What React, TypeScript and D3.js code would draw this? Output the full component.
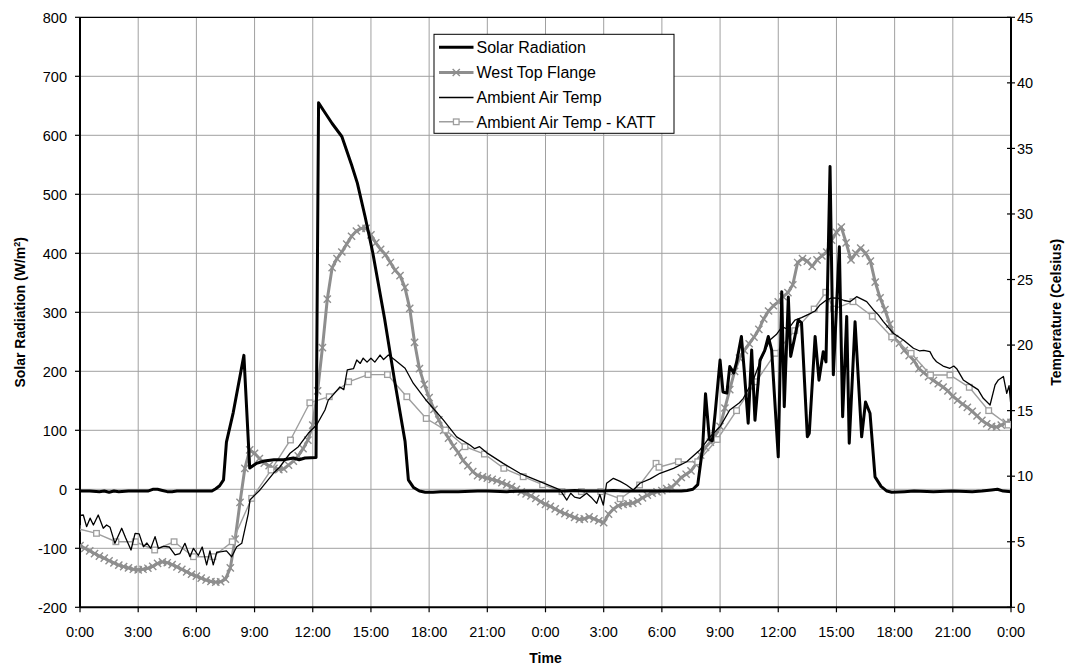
import React from "react";
import * as d3 from "d3";

// ---------- data ----------
const xTickLabels = ["0:00","3:00","6:00","9:00","12:00","15:00","18:00","21:00","0:00","3:00","6:00","9:00","12:00","15:00","18:00","21:00","0:00"];
const xTickHours = [0,3,6,9,12,15,18,21,24,27,30,33,36,39,42,45,48];
const leftTicks = [-200,-100,0,100,200,300,400,500,600,700,800];
const rightTicks = [0,5,10,15,20,25,30,35,40,45];

// Solar Radiation (W/m2): [hour, value]
const solarRadiation: [number, number][] = [
  [0,-3],[0.5,-3],[1,-4],[1.25,-3],[1.5,-5],[1.75,-3],[2,-4],[2.5,-3],[3,-3],[3.5,-3],[3.75,0],[4,0],[4.25,-2],[4.5,-4],[4.75,-4],[5,-3],[6.8,-3],
  [7.0,1],[7.2,6],[7.4,16],[7.55,80],[7.9,130],[8.45,227],[8.75,36],[9.1,44],[9.5,48],[10,50],[10.5,50],[11,53],[11.3,50],[11.6,53],[12.17,54],
  [12.3,655],[12.6,640],[13,620],[13.5,598],[14,550],[14.3,519],[14.7,462],[15.1,400],[15.7,290],[16.2,188],[16.76,81],[16.93,16],[17.2,3],[17.5,-3],[17.8,-5],
  [18.2,-5],[18.6,-4],[19.5,-4],[20.5,-3],[21,-3],[22,-4],[23,-3],[24,-3],[25,-3],[25.5,-2],[26,-3],[27,-3],[27.5,-2],[28,-3],[29,-3],[30,-3],[31,-3],
  [31.3,-2],[31.6,0],[31.85,8],[32.1,70],[32.25,162],[32.45,85],[32.6,82],[32.75,130],[33.0,219],[33.15,165],[33.35,163],[33.5,208],[33.7,197],[33.85,215],
  [34.1,259],[34.25,200],[34.45,112],[34.63,236],[34.8,117],[35.06,219],[35.3,235],[35.49,259],[35.66,236],[36.0,55],[36.18,335],[36.31,140],[36.52,326],
  [36.64,225],[36.86,259],[37.03,287],[37.2,282],[37.5,89],[37.6,95],[37.9,259],[38.1,185],[38.32,233],[38.46,216],[38.67,547],[38.84,194],[39.15,411],
  [39.32,123],[39.53,293],[39.66,78],[39.96,284],[40.3,89],[40.5,148],[40.73,129],[40.99,21],[41.3,5],[41.6,-3],[41.85,-5],[42.5,-4],[43,-3],[44,-4],
  [45,-3],[46,-4],[46.5,-3],[47,-1],[47.3,0],[47.6,-3],[48,-4]
];

// West Top Flange (Celsius), every 15 minutes from 0:00
const flangeStepHours = 0.25;
const westTopFlange = [
  4.7,4.5,4.3,4.1, 3.9,3.75,3.55,3.38, 3.22,3.1,3.0,2.9, 2.86,2.9,2.98,3.12,
  3.35,3.46,3.4,3.25, 3.08,2.9,2.7,2.52, 2.38,2.22,2.08,1.97, 1.92,1.95,2.15,3.0,
  5.2,8.0,10.6,12.0, 11.75,11.35,11.0,10.8, 10.6,10.5,10.55,10.85, 11.15,11.55,12.1,12.75,
  13.9,16.5,19.8,23.5, 25.9,26.6,27.1,27.7, 28.3,28.7,28.9,28.9, 28.4,27.8,27.3,26.9,
  26.3,25.7,25.3,24.4, 22.8,20.2,18.2,17.0, 16.0,15.1,14.3,13.5, 12.9,12.3,11.8,11.2,
  10.8,10.35,10.05,9.95, 9.85,9.75,9.65,9.5, 9.35,9.2,9.0,8.8, 8.65,8.5,8.3,8.05,
  7.85,7.7,7.5,7.3, 7.15,7.0,6.85,6.7, 6.75,6.9,6.75,6.6, 6.45,7.1,7.5,7.75,
  7.85,7.9,7.95,8.1, 8.35,8.55,8.7,8.8, 8.9,9.05,9.15,9.5, 9.9,10.15,10.4,10.9,
  11.6,12.2,12.6,13.1, 13.8,15.2,16.6,18.0, 19.0,19.6,20.1,20.6, 21.2,22.0,22.6,23.0,
  23.3,23.7,24.0,24.6, 26.3,26.6,26.4,26.0, 26.5,26.8,27.1,28.0, 28.6,29.0,27.8,26.5,
  27.0,27.4,27.0,26.4, 24.8,23.6,22.7,21.6, 20.5,20.15,19.6,19.2, 18.8,18.2,17.9,17.6,
  17.3,17.05,16.8,16.5, 16.1,15.8,15.5,15.25, 14.95,14.6,14.25,14.0, 13.8,13.75,13.9,14.1,
  14.1
];

// Ambient Air Temp (Celsius): [hour, value]
const ambientAirTemp: [number, number][] = [
  [0,7.0],[0.17,7.04],[0.34,6.15],[0.52,6.8],[0.69,6.28],[0.94,7.04],[1.2,6.03],[1.37,6.28],[1.55,6.1],[1.8,4.88],[2.15,6.03],[2.35,5.3],[2.63,4.37],
  [2.84,5.64],[3.05,5.6],[3.27,4.62],[3.45,4.9],[3.65,4.5],[3.87,5.39],[4.04,4.5],[4.3,4.65],[4.6,4.6],[4.9,3.99],[5.15,4.1],[5.41,4.88],[5.67,3.86],
  [5.85,4.5],[6.1,3.95],[6.3,4.6],[6.53,3.23],[6.7,4.3],[6.87,3.23],[7.05,4.2],[7.3,4.24],[7.55,4.3],[7.82,3.86],[8.08,4.62],[8.34,4.88],[8.68,7.17],
  [8.76,8.18],[9.28,8.95],[9.97,10.22],[10.3,10.7],[10.83,11.75],[11.26,12.25],[11.77,13.27],[12.2,13.9],[12.63,15.05],[12.8,15.8],[13.05,16.2],
  [13.4,16.8],[13.6,16.6],[13.78,18.1],[14.1,18.2],[14.27,18.86],[14.45,18.6],[14.6,19.0],[14.8,18.7],[15.0,19.0],[15.2,18.7],[15.47,19.24],[15.65,18.9],
  [15.9,19.24],[16.24,18.86],[16.76,18.23],[17.18,17.09],[17.87,15.75],[18.73,14.29],[19.42,13.0],[20.1,12.38],[20.35,12.1],[20.6,12.25],[20.96,11.8],
  [21.82,10.98],[22.68,10.22],[23.72,9.58],[24.75,8.95],[25.1,8.18],[25.3,8.7],[25.5,8.4],[25.78,8.31],[26.12,8.7],[26.35,8.4],[26.64,7.93],[26.8,8.6],
  [26.98,7.8],[27.15,9.46],[27.5,9.84],[27.85,9.6],[28.18,9.33],[28.53,8.95],[28.87,9.46],[29.4,9.8],[29.9,10.22],[30.6,10.6],[31.28,11.1],[31.96,12.0],
  [32.48,13.0],[33.0,13.78],[33.5,15.05],[34.0,15.6],[34.2,15.94],[34.71,17.34],[35.14,18.99],[35.57,20.39],[35.9,20.8],[36.2,21.4],[36.5,21.2],
  [36.86,21.9],[37.2,22.1],[37.64,22.4],[37.9,22.6],[38.15,23.06],[38.45,23.4],[38.75,23.6],[39.1,23.57],[39.4,23.4],[39.7,23.31],[40.04,23.69],
  [40.3,23.5],[40.56,23.31],[40.9,22.7],[41.16,22.3],[41.42,21.79],[41.93,20.9],[42.45,20.39],[42.97,19.76],[43.3,19.55],[43.5,19.6],[43.82,19.5],
  [44.0,19.0],[44.16,18.73],[44.5,18.4],[44.85,18.23],[45.05,18.4],[45.2,18.2],[45.54,17.34],[46.06,16.83],[46.3,16.6],[46.57,15.94],[46.92,15.43],
  [47.18,16.96],[47.35,17.34],[47.61,17.6],[47.78,16.32],[47.9,16.9],[48.0,15.3]
];

// Ambient Air Temp - KATT (Celsius), hourly observations: [hour, value]
const ambientKATT: [number, number][] = [
  [-0.15,6.0],[0.85,5.64],[1.85,5.0],[2.85,5.0],[3.85,4.37],[4.85,5.0],[5.85,3.86],[6.85,3.86],[7.85,5.0],[8.85,8.31],[9.85,10.47],[10.85,12.76],
  [11.85,15.6],[12.85,16.06],[13.85,17.2],[14.85,17.75],[15.85,17.75],[16.85,16.06],[17.85,14.4],[18.85,13.52],[19.85,12.25],[20.85,11.69],[21.85,10.6],
  [22.85,9.96],[23.85,9.35],[24.85,8.82],[25.85,8.82],[26.85,8.82],[27.85,8.28],[28.85,9.33],[29.7,10.98],[29.85,10.68],[30.85,11.1],[31.85,11.1],
  [32.85,12.8],[33.85,15.0],[34.85,17.2],[35.85,19.37],[36.85,21.1],[37.85,22.75],[38.45,24.03],[38.85,22.75],[39.85,23.31],[40.85,22.2],[41.85,20.62],
  [42.85,19.37],[43.85,17.72],[44.85,17.72],[45.85,16.78],[46.85,15.0],[47.85,13.9]
];

const legendItems = ["Solar Radiation", "West Top Flange", "Ambient Air Temp", "Ambient Air Temp - KATT"];

// ---------- chart ----------
const W = 1065, H = 666;
const PL = 80, PR = 1011, PT = 17.3, PB = 607.3;
const FONT = "'Liberation Sans', Arial, Helvetica, sans-serif";
const GRID = "#a0a0a0";
const FLANGE = "#8e8e8e";
const KATT = "#9e9e9e";

export default function App() {
  const x = d3.scaleLinear().domain([0, 48]).range([PL, PR]);
  const yL = d3.scaleLinear().domain([-200, 800]).range([PB, PT]);
  const yR = d3.scaleLinear().domain([0, 45]).range([PB, PT]);

  const flangePts: [number, number][] = westTopFlange.map((v, i) => [i * flangeStepHours, v]);

  const lineL = d3.line<[number, number]>().x(d => x(d[0])).y(d => yL(d[1]));
  const lineR = d3.line<[number, number]>().x(d => x(d[0])).y(d => yR(d[1]));

  const xMark = (cx: number, cy: number, s: number) =>
    `M${cx - s},${cy - s}L${cx + s},${cy + s}M${cx - s},${cy + s}L${cx + s},${cy - s}`;

  const legX = 434, legY = 34.3, legW = 240, legH = 99;
  const rowY = [47.3, 72.5, 97.5, 121.8];
  const sampleX1 = 439, sampleX2 = 473.5, textX = 476.5;

  return (
    <svg width={W} height={H} style={{ position: "absolute", left: 0, top: 0, background: "#fff" }} fontFamily={FONT}>
      <defs>
        <clipPath id="plotClip">
          <rect x={PL} y={PT} width={PR - PL} height={PB - PT} />
        </clipPath>
      </defs>
      <rect x={0} y={0} width={W} height={H} fill="#fff" />

      {/* gridlines */}
      {leftTicks.slice(1, -1).map(t => (
        <line key={"h" + t} x1={PL} x2={PR} y1={yL(t)} y2={yL(t)} stroke={GRID} strokeWidth={1} />
      ))}
      {xTickHours.slice(1, -1).map((h, i) => (
        <line key={"v" + i} x1={x(h)} x2={x(h)} y1={PT} y2={PB} stroke={GRID} strokeWidth={1} />
      ))}

      {/* frame */}
      <line x1={PL} x2={PR} y1={PT} y2={PT} stroke="#000" strokeWidth={1.2} />
      <line x1={PL} x2={PL} y1={PT} y2={PB} stroke="#000" strokeWidth={2} />
      <line x1={PR} x2={PR} y1={PT} y2={PB} stroke="#000" strokeWidth={2} />
      <line x1={PL} x2={PR} y1={PB} y2={PB} stroke="#000" strokeWidth={2} />

      {/* series */}
      <g clipPath="url(#plotClip)">
        <path d={lineR(flangePts) || ""} fill="none" stroke={FLANGE} strokeWidth={3} strokeLinejoin="round" />
        {flangePts.map((d, i) => (
          <path key={"fx" + i} d={xMark(x(d[0]), yR(d[1]), 3.6)} stroke={FLANGE} strokeWidth={1.4} fill="none" />
        ))}
        <path d={lineR(ambientKATT) || ""} fill="none" stroke={KATT} strokeWidth={1.4} />
        {ambientKATT.map((d, i) => (
          <rect key={"ks" + i} x={x(d[0]) - 2.8} y={yR(d[1]) - 2.8} width={5.6} height={5.6} fill="#fff" stroke={KATT} strokeWidth={1.3} />
        ))}
        <path d={lineR(ambientAirTemp) || ""} fill="none" stroke="#000" strokeWidth={1.3} strokeLinejoin="round" />
        <path d={lineL(solarRadiation) || ""} fill="none" stroke="#000" strokeWidth={3} strokeLinejoin="round" />
      </g>

      {/* left axis */}
      {leftTicks.map(t => (
        <g key={"lt" + t}>
          <line x1={PL - 5} x2={PL} y1={yL(t)} y2={yL(t)} stroke="#000" strokeWidth={1.2} />
          <text x={67} y={yL(t)} dy="0.36em" textAnchor="end" fontSize={14.5} fill="#000">{t}</text>
        </g>
      ))}
      {/* right axis */}
      {rightTicks.map(t => (
        <g key={"rt" + t}>
          <line x1={PR - 4} x2={PR + 4} y1={yR(t)} y2={yR(t)} stroke="#000" strokeWidth={1.2} />
          <text x={1017} y={yR(t)} dy="0.36em" textAnchor="start" fontSize={14.5} fill="#000">{t}</text>
        </g>
      ))}
      {/* x axis */}
      {xTickHours.map((h, i) => (
        <g key={"xt" + i}>
          <line x1={x(h)} x2={x(h)} y1={PB} y2={PB + 5} stroke="#000" strokeWidth={1.2} />
          <text x={x(h)} y={636.5} textAnchor="middle" fontSize={14.5} fill="#000">{xTickLabels[i]}</text>
        </g>
      ))}

      {/* axis titles */}
      <text x={(PL + PR) / 2} y={663} textAnchor="middle" fontSize={14} fontWeight="bold">Time</text>
      <text transform={`translate(25, ${(PT + PB) / 2}) rotate(-90)`} textAnchor="middle" fontSize={14} fontWeight="bold">
        Solar Radiation (W/m<tspan dy="-5" fontSize={9}>2</tspan><tspan dy="5">)</tspan>
      </text>
      <text transform={`translate(1061, ${(PT + PB) / 2}) rotate(-90)`} textAnchor="middle" fontSize={14} fontWeight="bold">
        Temperature (Celsius)
      </text>

      {/* legend */}
      <rect x={legX} y={legY} width={legW} height={legH} fill="#fff" stroke="#000" strokeWidth={1} />
      <line x1={sampleX1} x2={sampleX2} y1={rowY[0]} y2={rowY[0]} stroke="#000" strokeWidth={3} />
      <line x1={sampleX1} x2={sampleX2} y1={rowY[1]} y2={rowY[1]} stroke={FLANGE} strokeWidth={3} />
      <path d={xMark((sampleX1 + sampleX2) / 2, rowY[1], 3.6)} stroke={FLANGE} strokeWidth={1.4} />
      <line x1={sampleX1} x2={sampleX2} y1={rowY[2]} y2={rowY[2]} stroke="#000" strokeWidth={1.3} />
      <line x1={sampleX1} x2={sampleX2} y1={rowY[3]} y2={rowY[3]} stroke={KATT} strokeWidth={1.4} />
      <rect x={(sampleX1 + sampleX2) / 2 - 2.8} y={rowY[3] - 2.8} width={5.6} height={5.6} fill="#fff" stroke={KATT} strokeWidth={1.3} />
      {legendItems.map((t, i) => (
        <text key={"lg" + i} x={textX} y={rowY[i]} dy="0.36em" fontSize={16} fill="#000">{t}</text>
      ))}
    </svg>
  );
}
